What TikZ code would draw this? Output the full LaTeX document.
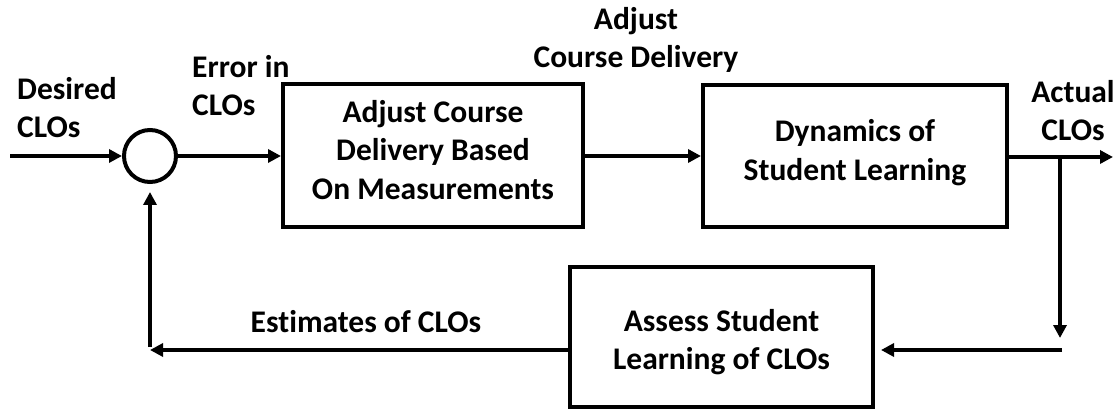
\documentclass[tikz,border=0pt]{standalone}
\usepackage{fontspec}
\setmainfont{Carlito}[Ligatures=NoCommon]
\usetikzlibrary{arrows.meta}
\newcommand{\lowstrut}[1]{\rule[-#1]{0pt}{0pt}}
\begin{document}
\begin{tikzpicture}[x=1pt,y=-1pt,
  txt/.style={font=\fontsize{31.5}{38.5}\selectfont\bfseries, inner sep=0pt},
  blk/.style={draw, line width=4pt, rectangle, align=center, txt},
  lbl/.style={txt},
  conn/.style={line width=4pt, -{Triangle[length=13pt,width=13pt]}}
]
\useasboundingbox (0,0) rectangle (1115,411);
% blocks
\node[draw, circle, line width=4pt, minimum size=52pt, inner sep=0pt] (sum) at (150,156) {};
\node[blk, minimum width=300pt, minimum height=143pt] (b1) at (433,155.5)
  {Adjust Course\\Delivery Based\\On Measurements\lowstrut{12pt}};
\node[blk, minimum width=304pt, minimum height=142pt] (b2) at (855,156)
  {Dynamics of\\Student Learning\lowstrut{12pt}};
\node[blk, minimum width=303pt, minimum height=140pt] (b3) at (721.5,337)
  {\rule{0pt}{32pt}Assess Student\\Learning of CLOs};
% coordinates
\coordinate (in) at (10,156);
\coordinate (out) at (1113,157);
\coordinate (br) at (1060,157);
\coordinate (brd) at (1060,338);
\coordinate (brh) at (1062,350);
\coordinate (fb) at (150,350);
\coordinate (fbv) at (150,347);
% connectors
\draw[conn] (in) -- (sum.west);
\draw[conn] (sum.east) -- (sum.east -| b1.west);
\draw[conn] (b1.east |- sum.east) -- (b1.east |- sum.east -| b2.west);
\draw[conn] (b2.east |- out) -- (out);
\draw[conn] (br) -- (brd);
\draw[conn, shorten >=6pt] (brh) -- (brh -| b3.east);
\draw[conn] (b3.west |- fb) -- (fb);
\draw[conn, shorten >=8pt] (fbv) -- (sum.south);
% labels (anchor base = baseline of the last line)
\node[lbl, anchor=base west, align=left] (l1) at (17,138) {Desired\\CLOs};
\node[lbl, anchor=base west, align=left] (l2) at (192,116) {Error in\\CLOs};
\node[lbl, anchor=base, align=center] (l3) at (636,68) {Adjust\\Course Delivery};
\node[lbl, anchor=base, align=center] (l4) at (1073,141) {Actual\\CLOs};
\node[lbl, anchor=base] (l5) at (366,332) {Estimates of CLOs};
\end{tikzpicture}
\end{document}
